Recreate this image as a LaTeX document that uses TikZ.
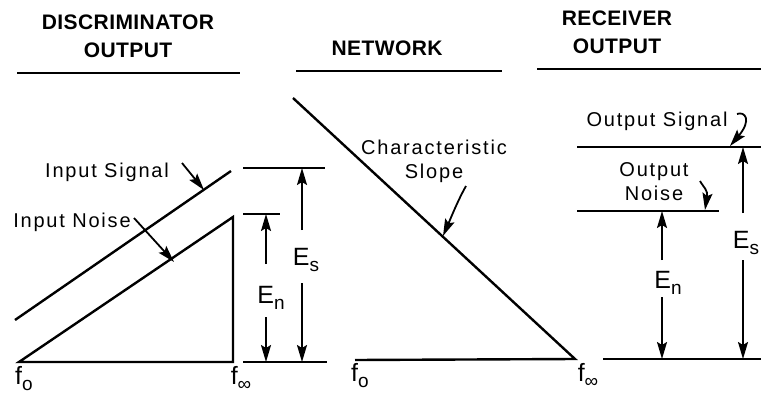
\documentclass[tikz,border=0pt]{standalone}
\usepackage{fontspec}
\setmainfont{Liberation Sans}
\newfontfamily\labfont[LetterSpace=9]{Liberation Sans}
\newfontfamily\headfont[LetterSpace=2]{Liberation Sans}
\usetikzlibrary{arrows.meta}
\newcommand\lsub[1]{\raisebox{-0.45ex}{\fontsize{19}{19}\selectfont #1}}
\begin{document}
\begin{tikzpicture}[x=1pt,y=-1pt,
  ln/.style={line width=2.4pt},
  thin/.style={line width=1.8pt},
  arr/.style={line width=1.8pt,-{Stealth[length=17pt,width=10pt,inset=3pt]}},
  head/.style={font=\headfont\bfseries\fontsize{21}{28}\selectfont,align=center,inner sep=0pt},
  lab/.style={font=\labfont\fontsize{20}{24}\selectfont,align=center,inner sep=0pt},
  big/.style={font=\fontsize{25}{25}\selectfont,inner sep=0pt}]
\useasboundingbox (0,0) rectangle (761,394);
% headings
\node[head] (h1) at (128,36) {DISCRIMINATOR\\OUTPUT};
\node[head] (h2) at (387,48) {NETWORK};
\node[head] (h3) at (617,32) {RECEIVER\\OUTPUT};
\coordinate (r1a) at (17,73); \coordinate (r1b) at (240,73);
\coordinate (r2a) at (296,71); \coordinate (r2b) at (502,71);
\coordinate (r3a) at (537,69); \coordinate (r3b) at (761,69);
\draw[thin] (r1a) -- (r1b);
\draw[thin] (r2a) -- (r2b);
\draw[thin] (r3a) -- (r3b);
% left panel
\coordinate (s1) at (15,320); \coordinate (s2) at (231,171);
\coordinate (n0) at (19,362); \coordinate (n1) at (233,217); \coordinate (n2) at (233,362);
\draw[ln] (s1) -- (s2);
\draw[ln,line join=miter] (n0) -- (n1) -- (n2) -- cycle;
\node[big] (fo1) at (24,379) {f\lsub{o}};
\node[big] (fi1) at (241,378) {f\lsub{∞}};
\node[lab] (isig) at (107,172) {Input Signal};
\node[lab] (inoi) at (72,222) {Input Noise};
\coordinate (isa) at (182,163); \coordinate (isb) at (204,190);
\coordinate (ina) at (134,218); \coordinate (inb) at (174,262);
\draw[arr] (isa) -- (isb);
\draw[arr] (ina) -- (inb);
% dimension lines left
\coordinate (t1a) at (243,168); \coordinate (t1b) at (325,168);
\coordinate (t2a) at (243,214); \coordinate (t2b) at (280,214);
\coordinate (t3a) at (243,362); \coordinate (t3b) at (327,362);
\draw[thin] (t1a) -- (t1b);
\draw[thin] (t2a) -- (t2b);
\draw[thin] (t3a) -- (t3b);
\node[big] (en1) at (271,298) {E\lsub{n}};
\node[big] (es1) at (306,260) {E\lsub{s}};
\coordinate (en1u) at (266,264); \coordinate (en1t) at (266,214);
\coordinate (en1d) at (266,317); \coordinate (en1b) at (266,362);
\coordinate (es1u) at (302,230); \coordinate (es1t) at (302,168);
\coordinate (es1d) at (302,283); \coordinate (es1b) at (302,362);
\draw[arr] (en1u) -- (en1t);
\draw[arr] (en1d) -- (en1b);
\draw[arr] (es1u) -- (es1t);
\draw[arr] (es1d) -- (es1b);
% middle panel
\coordinate (m1) at (293,98); \coordinate (m2) at (575,359); \coordinate (m0) at (355,360);
\draw[ln] (m1) -- (m2) -- (m0);
\node[lab] (char) at (434,161) {Characteristic\\Slope};
\coordinate (cha) at (466,186); \coordinate (chb) at (443,236);
\draw[arr] (cha) .. controls (458,200) and (450,220) .. (chb);
\node[big] (fo2) at (360,376) {f\lsub{o}};
\node[big] (fi2) at (588,375) {f\lsub{∞}};
% right panel
\coordinate (os1) at (577,147); \coordinate (os2) at (761,147);
\coordinate (on1) at (577,211); \coordinate (on2) at (719,211);
\coordinate (rb1) at (603,359); \coordinate (rb2) at (761,359);
\draw[ln] (os1) -- (os2);
\draw[ln] (on1) -- (on2);
\draw[ln] (rb1) -- (rb2);
\node[lab] (osig) at (657,121) {Output Signal};
\node[lab] (onoi) at (654,182) {Output\\Noise};
\coordinate (osa) at (737,114); \coordinate (osb) at (730,146);
\draw[arr] (osa) .. controls (745,111) and (752,120) .. (osb);
\coordinate (ona) at (700,181); \coordinate (onb) at (705,210);
\draw[arr] (ona) .. controls (704,188) and (708,190) .. (onb);
\node[big] (en2) at (668,283) {E\lsub{n}};
\node[big] (es2) at (746,243) {E\lsub{s}};
\coordinate (en2u) at (662,260); \coordinate (en2t) at (662,211);
\coordinate (en2d) at (662,297); \coordinate (en2b) at (662,359);
\coordinate (es2u) at (743,213); \coordinate (es2t) at (743,147);
\coordinate (es2d) at (743,260); \coordinate (es2b) at (743,359);
\draw[arr] (en2u) -- (en2t);
\draw[arr] (en2d) -- (en2b);
\draw[arr] (es2u) -- (es2t);
\draw[arr] (es2d) -- (es2b);
\end{tikzpicture}
\end{document}
